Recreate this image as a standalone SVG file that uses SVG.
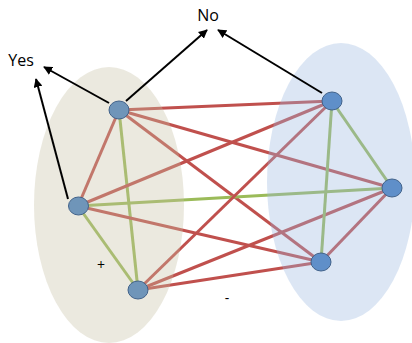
<svg xmlns="http://www.w3.org/2000/svg" width="412" height="343" viewBox="0 0 412 343">
<defs>
<style>
.r{stroke:#c0504d;stroke-width:3;fill:none}
.g{stroke:#9bbb59;stroke-width:3;fill:none}
.a{stroke:#000;stroke-width:2;fill:none;marker-end:url(#ah)}
.t{font-family:"Open Sans","Liberation Sans",sans-serif;font-size:16px;fill:#000}
.s{font-family:"Open Sans","Liberation Sans",sans-serif;font-size:14px;fill:#000}
.n{stroke:#41628a;stroke-width:1}
</style>
<marker id="ah" viewBox="0 0 10 10" refX="9" refY="5" markerWidth="4.5" markerHeight="4.5" orient="auto">
<path d="M0,0 L10,5 L0,10 z" fill="#000"/>
</marker>
</defs>
<rect width="412" height="343" fill="#fff"/>
<g id="connectors">
<line class="r" x1="119" y1="110" x2="332" y2="101"/>
<line class="r" x1="119" y1="110" x2="392" y2="188"/>
<line class="r" x1="119" y1="110" x2="321" y2="262"/>
<line class="r" x1="119" y1="110" x2="78" y2="206"/>
<line class="g" x1="119" y1="110" x2="138" y2="290"/>
<line class="r" x1="78" y1="206" x2="332" y2="101"/>
<line class="g" x1="78" y1="206" x2="392" y2="188"/>
<line class="r" x1="78" y1="206" x2="321" y2="262"/>
<line class="g" x1="78" y1="206" x2="138" y2="290"/>
<line class="r" x1="138" y1="290" x2="332" y2="101"/>
<line class="r" x1="138" y1="290" x2="392" y2="188"/>
<line class="r" x1="138" y1="290" x2="321" y2="262"/>
<line class="g" x1="332" y1="101" x2="392" y2="188"/>
<line class="g" x1="332" y1="101" x2="321" y2="262"/>
<line class="r" x1="392" y1="188" x2="321" y2="262"/>
</g>
<g id="groupLeft">
<ellipse cx="109" cy="205" rx="75" ry="138" fill="#c5bfa3" fill-opacity="0.35"/>
</g>
<g id="groupRight">
<ellipse cx="341" cy="182" rx="74" ry="139" fill="#9ab7df" fill-opacity="0.35"/>
</g>
<g id="arrows">
<line class="a" x1="109" y1="103" x2="44" y2="67"/>
<line class="a" x1="68" y1="199" x2="36" y2="79"/>
<line class="a" x1="126" y1="101" x2="207" y2="30"/>
<line class="a" x1="322" y1="93" x2="218" y2="30"/>
</g>
<g id="nodeA"><ellipse class="n" cx="119" cy="110" rx="10" ry="9" fill="#6f95b9"/></g>
<g id="nodeB"><ellipse class="n" cx="78.5" cy="206" rx="10" ry="9" fill="#6f95b9"/></g>
<g id="nodeC"><ellipse class="n" cx="138" cy="290" rx="10" ry="9" fill="#6f95b9"/></g>
<g id="nodeD"><ellipse class="n" cx="332" cy="101" rx="10" ry="9" fill="#5f8fc9"/></g>
<g id="nodeE"><ellipse class="n" cx="392" cy="188" rx="10" ry="9" fill="#5f8fc9"/></g>
<g id="nodeF"><ellipse class="n" cx="321" cy="262" rx="10" ry="9" fill="#5f8fc9"/></g>
<g id="labels">
<text class="t" x="208" y="21" text-anchor="middle">No</text>
<text class="t" x="21" y="66" text-anchor="middle">Yes</text>
<text class="s" x="101" y="270" text-anchor="middle">+</text>
<text class="s" x="227" y="303" text-anchor="middle">-</text>
</g>
</svg>
